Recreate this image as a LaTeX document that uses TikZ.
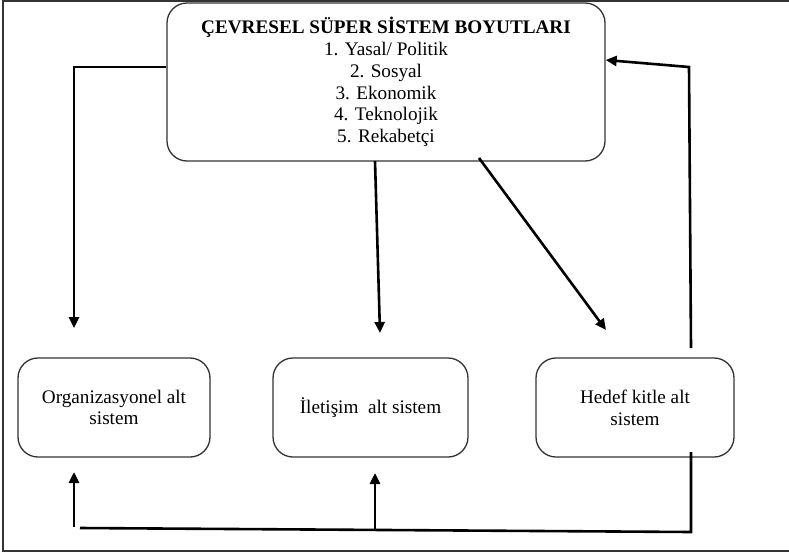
\documentclass[tikz,border=0pt]{standalone}
\usepackage{fontspec}
\setmainfont{Liberation Serif}
\usetikzlibrary{arrows.meta}
\begin{document}
\begin{tikzpicture}[x=1pt,y=-1pt,
  box/.style={draw=black!80, line width=1.3pt, rounded corners=20pt, align=center,
    font=\fontsize{19.2}{21.7}\selectfont, inner sep=0pt},
  conn/.style={line width=2.6pt, -{Triangle[length=11pt,width=10pt]}},
  plainline/.style={line width=2.6pt},
  frame/.style={line width=1.5pt, draw=black!80}]
\useasboundingbox (0,0) rectangle (789,554);
\draw[frame] (789,1) -- (3,1) -- (3,551) -- (789,551);
\node[box, minimum width=438pt, minimum height=158pt] (top) at (386,82)
  {\textbf{ÇEVRESEL SÜPER SİSTEM BOYUTLARI}\\1. Yasal/ Politik\\2. Sosyal\\3. Ekonomik\\4. Teknolojik\\5. Rekabetçi};
\node[box, minimum width=192pt, minimum height=99pt] (org) at (114,407.5) {Organizasyonel alt\\sistem};
\node[box, minimum width=195pt, minimum height=99pt] (ilt) at (370.5,407.5) {İletişim\ \ alt sistem};
\node[box, minimum width=198pt, minimum height=99pt] (hdf) at (635,407.5) {Hedef kitle alt\\sistem};
% top-left connector
\coordinate (tlc) at (74,67);
\coordinate (tlend) at (74,328);
\draw[conn] (top.west |- tlc) -- (tlc) -- (tlend);
% middle connector
\coordinate (mstart) at (375,161);
\coordinate (mend) at (380,333);
\draw[conn] (mstart) -- (mend);
% diagonal connector
\coordinate (dstart) at (479,158);
\coordinate (dend) at (606,330);
\draw[conn] (dstart) -- (dend);
% right feedback connector
\coordinate (rbot) at (691,348);
\coordinate (rtop) at (689,67);
\coordinate (rtip) at (606,60);
\draw[conn] (rbot) -- (rtop) -- (top.east |- rtip);
% bottom feedback
\coordinate (hb) at (691,452);
\coordinate (hc) at (691,532);
\coordinate (hl) at (80,528);
\draw[plainline] (hb) -- (hc) -- (hl);
\coordinate (oa) at (74,527);
\coordinate (oatip) at (74,472);
\draw[conn] (oa) -- (oatip);
\coordinate (ia) at (375,530);
\coordinate (iatip) at (375,473);
\draw[conn] (ia) -- (iatip);
\end{tikzpicture}
\end{document}
